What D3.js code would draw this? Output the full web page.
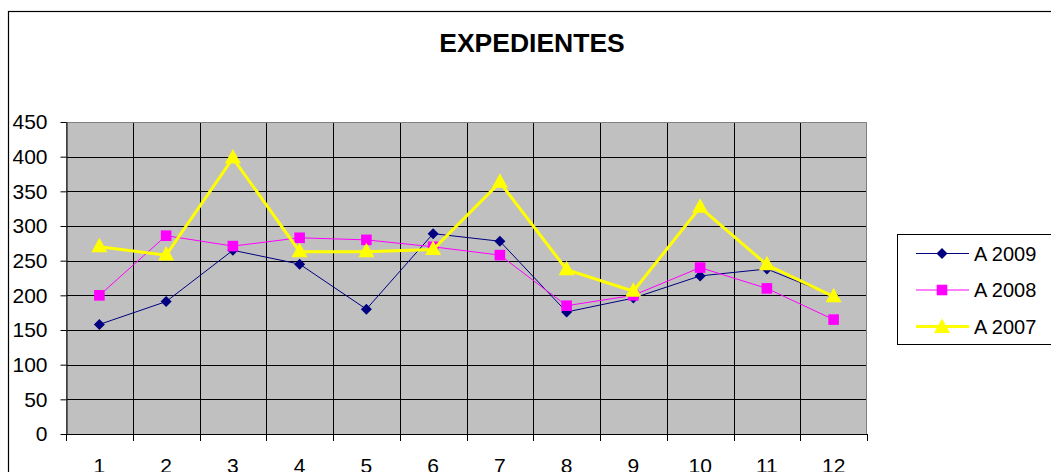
<!DOCTYPE html>
<html>
<head>
<meta charset="utf-8">
<script src="https://cdn.jsdelivr.net/npm/d3@7"></script>
<style>
  html, body { margin: 0; padding: 0; background: #fff; }
  svg { display: block; font-family: "Liberation Sans", Arial, sans-serif; }
</style>
</head>
<body>
<svg id="chart" width="1051" height="472"></svg>
<script>
const title = "EXPEDIENTES";
const months = ["1","2","3","4","5","6","7","8","9","10","11","12"];
const yTicks = [0,50,100,150,200,250,300,350,400,450];
const seriesNames = ["A 2009","A 2008","A 2007"];
const a2009 = [158,191,265,245,180,289,278,176,196,228,238,199];
const a2008 = [200,286,271,283,280,270,258,185,200,240,210,165];
const a2007 = [270,258,398,263,263,266,363,237,206,327,244,198];
const seriesColors = ["#000080","#FF00FF","#FFFF00"];

const series = [
  {name: seriesNames[0], values: a2009, color: seriesColors[0], width: 1, marker: "diamond"},
  {name: seriesNames[1], values: a2008, color: seriesColors[1], width: 1, marker: "square"},
  {name: seriesNames[2], values: a2007, color: seriesColors[2], width: 3, marker: "triangle"}
];

const svg = d3.select("#chart");
const W = 1051, H = 472;
const plot = {left: 66, right: 867, top: 122, bottom: 434};

// outer chart border
svg.append("rect").attr("x", 8.5).attr("y", 11.5).attr("width", W + 10).attr("height", H + 10)
  .attr("fill", "#fff").attr("stroke", "#000").attr("stroke-width", 1.2);

const x = d3.scaleBand().domain(months).range([plot.left, plot.right]).paddingInner(0).paddingOuter(0);
const y = d3.scaleLinear().domain([0, 450]).range([plot.bottom, plot.top]);
const xb = d3.scaleLinear().domain([0, months.length]).range([plot.left, plot.right]);

// plot background
svg.append("rect").attr("x", plot.left).attr("y", plot.top)
  .attr("width", plot.right - plot.left).attr("height", plot.bottom - plot.top)
  .attr("fill", "#C0C0C0");

// horizontal gridlines
svg.append("g").selectAll("line").data(yTicks.filter(t => t > 0 && t < 450)).join("line")
  .attr("x1", plot.left).attr("x2", plot.right)
  .attr("y1", d => Math.round(y(d)) + 0.5).attr("y2", d => Math.round(y(d)) + 0.5)
  .attr("stroke", "#000").attr("stroke-width", 1);

// vertical gridlines at category boundaries
svg.append("g").selectAll("line").data(d3.range(1, months.length)).join("line")
  .attr("x1", d => Math.round(xb(d)) + 0.5).attr("x2", d => Math.round(xb(d)) + 0.5)
  .attr("y1", plot.top).attr("y2", plot.bottom)
  .attr("stroke", "#000").attr("stroke-width", 1);

// plot border
svg.append("rect").attr("x", plot.left + 0.5).attr("y", plot.top + 0.5)
  .attr("width", plot.right - plot.left - 1).attr("height", plot.bottom - plot.top)
  .attr("fill", "none").attr("stroke", "#808080").attr("stroke-width", 1);

// Y axis
const yAxis = svg.append("g").attr("transform", `translate(${plot.left + 0.5},0)`)
  .call(d3.axisLeft(y).tickValues(yTicks).tickSize(6).tickPadding(13).tickSizeOuter(0));
yAxis.select(".domain").attr("stroke", "#000");
yAxis.selectAll(".tick line").attr("stroke", "#000");
yAxis.selectAll(".tick text").attr("font-size", "21px").attr("fill", "#000")
  .attr("font-family", "'Liberation Sans', Arial, sans-serif");

// X axis: boundary ticks
svg.append("g").selectAll("line").data(d3.range(0, months.length + 1)).join("line")
  .attr("x1", d => Math.round(xb(d)) + 0.5).attr("x2", d => Math.round(xb(d)) + 0.5)
  .attr("y1", plot.bottom).attr("y2", plot.bottom + 7)
  .attr("stroke", "#000").attr("stroke-width", 1);
svg.append("line").attr("x1", plot.left).attr("x2", plot.right)
  .attr("y1", plot.bottom + 0.5).attr("y2", plot.bottom + 0.5)
  .attr("stroke", "#000");

// X axis labels
const xAxis = svg.append("g").attr("transform", `translate(0,${plot.bottom})`)
  .call(d3.axisBottom(x).tickSize(0).tickPadding(0));
xAxis.select(".domain").remove();
xAxis.selectAll(".tick text").attr("font-size", "21px").attr("fill", "#000")
  .attr("dy", null).attr("y", 39)
  .attr("font-family", "'Liberation Sans', Arial, sans-serif");

// markers
function markerPath(type) {
  if (type === "diamond") return "M0,-5.5L5.5,0L0,5.5L-5.5,0Z";
  if (type === "square") return "M-5.3,-5.3H5.3V5.3H-5.3Z";
  return "M0,-9L8,5.5H-8Z";
}

const line = d3.line().x((d, i) => x(months[i]) + x.bandwidth() / 2).y(d => y(d));

series.forEach(s => {
  const g = svg.append("g");
  g.append("path").datum(s.values).attr("d", line)
    .attr("fill", "none").attr("stroke", s.color).attr("stroke-width", s.width)
    .attr("stroke-linejoin", "miter");
  g.selectAll("path.m").data(s.values).join("path").attr("class", "m")
    .attr("transform", (d, i) => `translate(${x(months[i]) + x.bandwidth() / 2},${y(d)})`)
    .attr("d", markerPath(s.marker)).attr("fill", s.color);
});

// title
svg.append("text").attr("x", 532).attr("y", 52).attr("text-anchor", "middle")
  .attr("font-size", "26.5px").attr("font-weight", "bold").attr("fill", "#000")
  .text(title);

// legend
const leg = svg.append("g");
leg.append("rect").attr("x", 897.5).attr("y", 234.5).attr("width", 160).attr("height", 110)
  .attr("fill", "#fff").attr("stroke", "#000").attr("stroke-width", 1);
const legY = [253.5, 290, 326.5];
series.forEach((s, i) => {
  leg.append("line").attr("x1", 916).attr("x2", 969).attr("y1", legY[i]).attr("y2", legY[i])
    .attr("stroke", s.color).attr("stroke-width", s.width);
  leg.append("path").attr("transform", `translate(942,${legY[i] + (s.marker === "triangle" ? 1 : 0)})`)
    .attr("d", markerPath(s.marker)).attr("fill", s.color);
  leg.append("text").attr("x", 974).attr("y", legY[i] + 7).attr("font-size", "20px")
    .attr("fill", "#000").text(s.name);
});
</script>
</body>
</html>
